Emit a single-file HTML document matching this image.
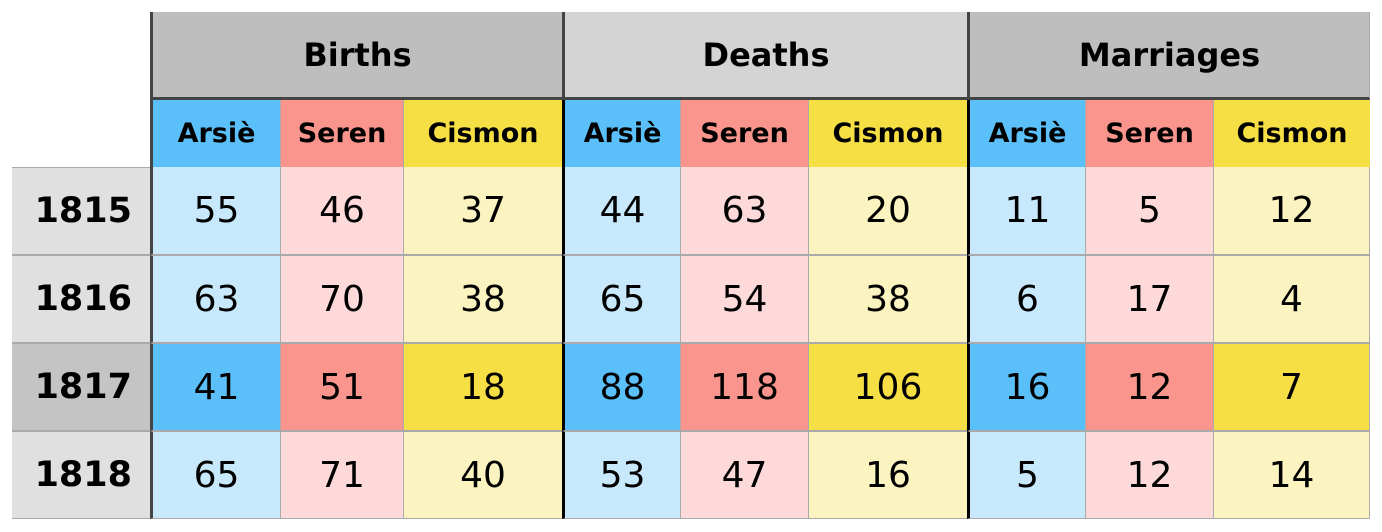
<!DOCTYPE html>
<html><head><meta charset="utf-8"><style>
body{margin:0;background:#fff;width:1382px;height:532px;overflow:hidden;font-family:"DejaVu Sans","Liberation Sans",sans-serif}
.c{position:absolute;display:flex;align-items:center;justify-content:center;box-sizing:border-box;color:#000}
</style></head><body>
<div id="t"></div>
<script>
const groups=["Births","Deaths","Marriages"];
const places=["Arsiè","Seren","Cismon"];
const years=["1815","1816","1817","1818"];
const values=[
[55,46,37,44,63,20,11,5,12],
[63,70,38,65,54,38,6,17,4],
[41,51,18,88,118,106,16,12,7],
[65,71,40,53,47,16,5,12,14]];
const highlight=2;
const colX=[150,280,403,562,680,808,967,1085,1213,1370];
const rowY=[167,255,343,431,519];
const t=document.getElementById('t');
const strong=['#5bbff9','#f9958d','#f6de45'], light=['#c8e8fb','#fdd9d9','#fbf3c0'];
function cell(x,y,w,h,txt,st,name){const d=document.createElement('div');d.className='c';


Object.assign(d.style,{left:x+'px',top:y+'px',width:w+'px',height:h+'px'},st);d.textContent=txt;t.appendChild(d);return d;}
groups.forEach((g,i)=>{const x0=colX[i*3],x1=colX[i*3+3];
cell(x0,12,x1-x0,88,g,{background:i==1?'#d4d4d4':'#bebebe',fontWeight:'bold',fontSize:'32px',borderLeft:'3px solid #444',borderBottom:'3px solid #444',borderRight:i==2?'1px solid #aaa':'none'},'group-header-'+g.toLowerCase());
places.forEach((p,j)=>{const k=i*3+j;
cell(colX[k],100,colX[k+1]-colX[k],67,p,{background:strong[j],fontWeight:'bold',fontSize:'27px',borderLeft:j==0?'3px solid '+(i==0?'#444':'#000'):'1px solid #aaa'},'subheader-'+g.toLowerCase()+'-'+j);});});
years.forEach((y,r)=>{const y0=rowY[r],h=rowY[r+1]-y0;
cell(12,y0,138,h,y,{background:r==highlight?'#c4c4c4':'#e0e0e0',fontWeight:'bold',fontSize:'35px',justifyContent:'flex-end',paddingRight:'18px',borderBottom:'1px solid #aaa',borderTop:'1px solid #aaa'},'year-label-'+y);
values[r].forEach((v,k)=>{const j=k%3;
cell(colX[k],y0,colX[k+1]-colX[k],h,String(v),{background:r==highlight?strong[j]:light[j],fontSize:'36px',borderLeft:k==0?'3px solid #444':(j==0?'3px solid #000':'1px solid #aaa'),borderBottom:'1px solid #aaa',borderTop:r==0?'none':'1px solid #aaa',borderRight:k==8?'1px solid #aaa':'none'},'value-'+y+'-'+k);});});
</script>
</body></html>
